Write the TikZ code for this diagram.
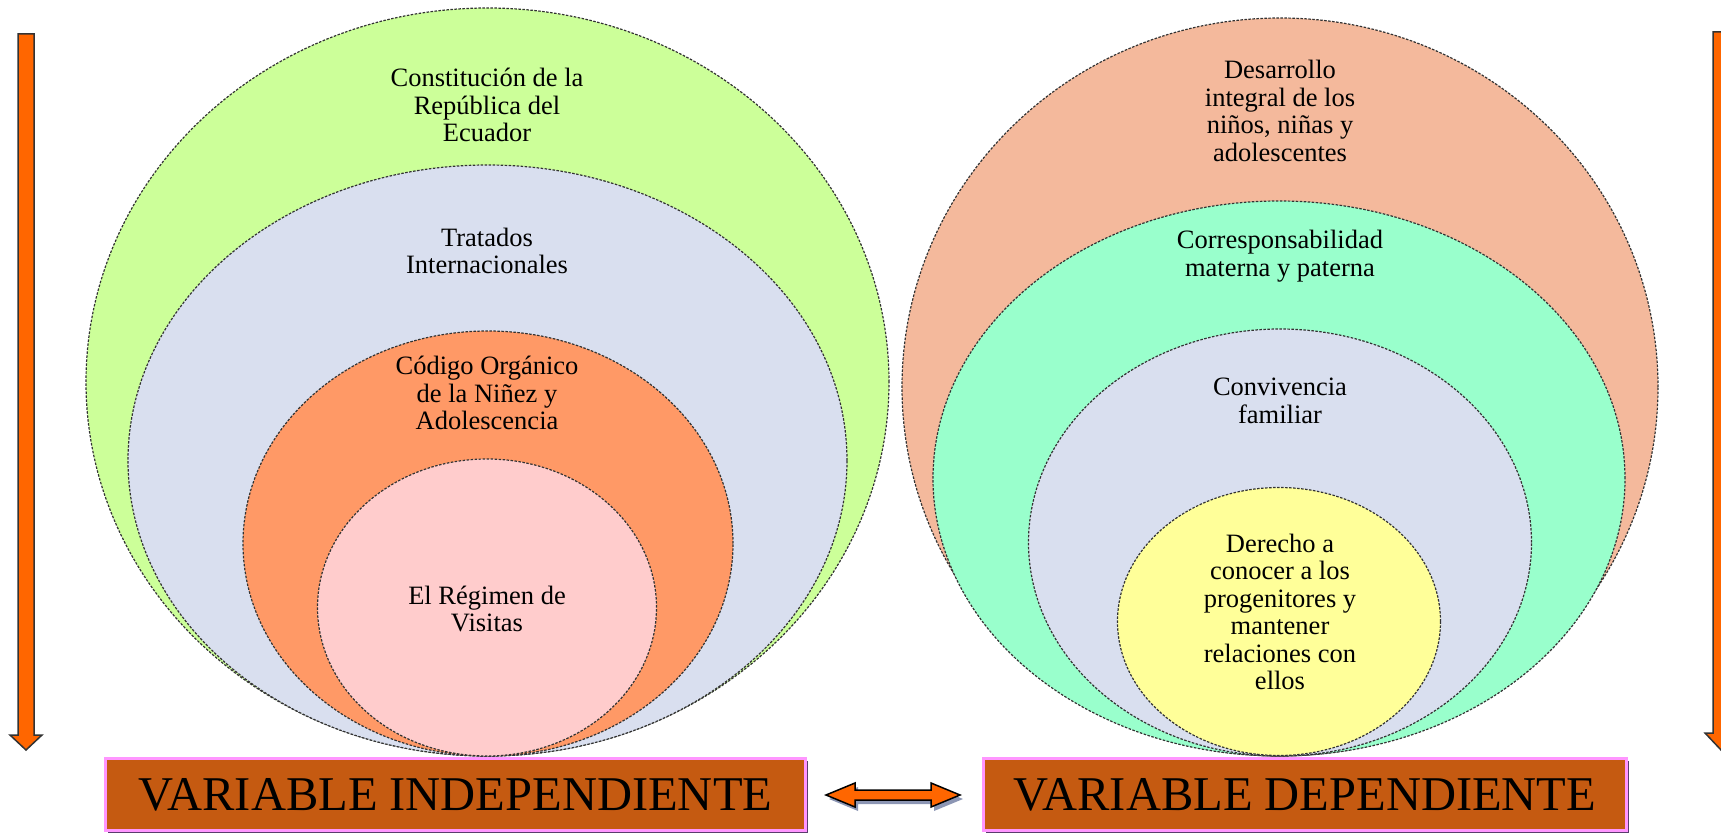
\documentclass[tikz,border=0pt]{standalone}
\usepackage{fontspec}
\setmainfont{Liberation Serif}
\usetikzlibrary{shapes.geometric,shadows}
\definecolor{cgreen}{RGB}{204,255,153}
\definecolor{clav}{RGB}{217,223,239}
\definecolor{corange}{RGB}{255,153,102}
\definecolor{cpink}{RGB}{255,204,204}
\definecolor{csalmon}{RGB}{244,185,156}
\definecolor{cmint}{RGB}{153,255,204}
\definecolor{cyellow}{RGB}{255,255,153}
\definecolor{boxfill}{RGB}{197,90,17}
\definecolor{boxpink}{RGB}{255,150,255}
\definecolor{boxshadow}{RGB}{90,60,110}
\definecolor{arrowfill}{RGB}{255,102,0}
\definecolor{arrowshadow}{RGB}{140,150,180}
\begin{document}
\begin{tikzpicture}[x=1pt,y=-1pt,
  ell/.style={ellipse, draw=black!80, line width=1.2pt, dash pattern=on 2.5pt off 1.5pt, inner sep=0pt, outer sep=0pt},
  txt/.style={align=center, font=\fontsize{26.5}{27.5}\selectfont, inner sep=0pt},
  varbox/.style={draw=boxpink, line width=3pt, fill=boxfill, minimum height=72pt, inner sep=0pt,
    font=\fontsize{48.5}{50}\selectfont,
    drop shadow={shadow xshift=2pt, shadow yshift=-2pt, fill=boxshadow, opacity=1}},
  blockarrow/.style={fill=arrowfill, draw=black, line width=1.5pt, line join=miter}
]
\useasboundingbox (0,0) rectangle (1721,834);

% left set
\node[ell, fill=cgreen,  minimum width=803pt, minimum height=748pt] (L1) at (487.5,382) {};
\node[ell, fill=clav,    minimum width=719pt, minimum height=591pt] (L2) at (487.5,460.5) {};
\node[ell, fill=corange, minimum width=490pt, minimum height=425pt] (L3) at (488,543.5) {};
\node[ell, fill=cpink,   minimum width=339pt, minimum height=297pt] (L4) at (487,607.5) {};

\node[txt] (tL1) at (487,105) {Constitución de la\\República del\\Ecuador};
\node[txt] (tL2) at (487,251) {Tratados\\Internacionales};
\node[txt] (tL3) at (487,393) {Código Orgánico\\de la Niñez y\\Adolescencia};
\node[txt] (tL4) at (487,609) {El Régimen de\\Visitas};

% right set
\node[ell, fill=csalmon, minimum width=756pt, minimum height=738pt] (R1) at (1280,387) {};
\node[ell, fill=cmint,   minimum width=692pt, minimum height=555pt] (R2) at (1279,478.5) {};
\node[ell, fill=clav,    minimum width=503pt, minimum height=427pt] (R3) at (1280,542.5) {};
\node[ell, fill=cyellow, minimum width=323pt, minimum height=268pt] (R4) at (1279,621.5) {};

\node[txt] (tR1) at (1280,111) {Desarrollo\\integral de los\\niños, niñas y\\adolescentes};
\node[txt] (tR2) at (1280,256) {Corresponsabilidad\\materna y paterna};
\node[txt] (tR3) at (1280,401) {Convivencia\\familiar};
\node[txt] (tR4) at (1280,612) {Derecho a\\conocer a los\\progenitores y\\mantener\\relaciones con\\ellos};

% bottom boxes
\node[varbox, minimum width=700pt] (VI) at (455.5,794.5) {VARIABLE INDEPENDIENTE};
\node[varbox, minimum width=643pt] (VD) at (1305,794.5) {VARIABLE DEPENDIENTE};

% double arrow between boxes
\fill[arrowshadow, shift={(3,4)}] (826,795) -- (855,783) -- (855,790) -- (931,790) -- (931,783) -- (960,795)
  -- (931,807) -- (931,800) -- (855,800) -- (855,807) -- cycle;
\draw[blockarrow] (826,795) -- (855,783) -- (855,790) -- (931,790) -- (931,783) -- (960,795)
  -- (931,807) -- (931,800) -- (855,800) -- (855,807) -- cycle;

% vertical arrows
\draw[blockarrow, draw=black!80] (18,34) -- (34,34) -- (34,735) -- (42,735) -- (26,750) -- (10,735) -- (18,735) -- cycle;
\draw[blockarrow, draw=black!80] (1713,32) -- (1729,32) -- (1729,733) -- (1737,733) -- (1721,750) -- (1705,733) -- (1713,733) -- cycle;
\end{tikzpicture}
\end{document}
